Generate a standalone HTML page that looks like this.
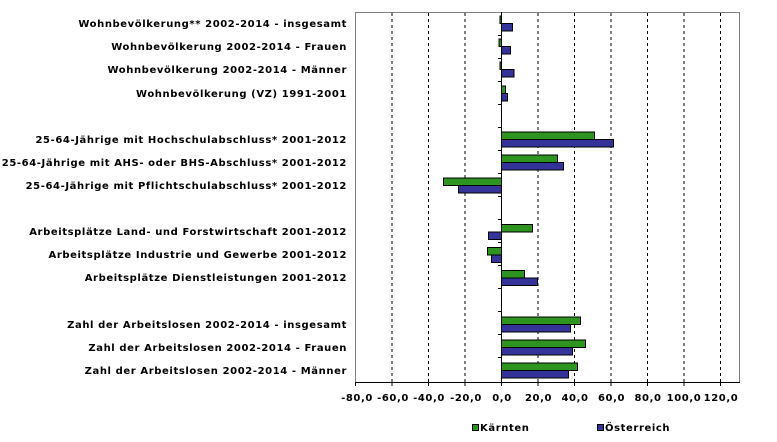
<!DOCTYPE html>
<html><head><meta charset="utf-8"><style>body{margin:0;background:#fff}svg{display:block}</style></head><body>
<svg width="777" height="442" xmlns="http://www.w3.org/2000/svg" font-family="DejaVu Sans, Verdana, sans-serif" font-weight="bold" font-size="10" letter-spacing="0.6">
<rect x="355.5" y="12.5" width="384" height="370" fill="none" stroke="#808080"/>
<g stroke="#000" stroke-dasharray="3,3">
<line x1="392" y1="13" x2="392" y2="382"/><line x1="428.5" y1="13" x2="428.5" y2="382"/><line x1="465" y1="13" x2="465" y2="382"/>
<line x1="538" y1="13" x2="538" y2="382"/><line x1="574.5" y1="13" x2="574.5" y2="382"/><line x1="611" y1="13" x2="611" y2="382"/>
<line x1="647.5" y1="13" x2="647.5" y2="382"/><line x1="684" y1="13" x2="684" y2="382"/><line x1="720.5" y1="13" x2="720.5" y2="382"/>
</g>
<g stroke="#000">
<rect x="500" y="16" width="1.5" height="7.5" fill="#2e9420"/><rect x="501.5" y="23.5" width="11" height="7.5" fill="#333399"/>
<rect x="499" y="39" width="2.5" height="7.5" fill="#2e9420"/><rect x="501.5" y="46.5" width="9" height="7.5" fill="#333399"/>
<rect x="500" y="62" width="1.5" height="7.5" fill="#2e9420"/><rect x="501.5" y="69.5" width="12.5" height="7.5" fill="#333399"/>
<rect x="501.5" y="86" width="4" height="7.5" fill="#2e9420"/><rect x="501.5" y="93.5" width="6" height="7.5" fill="#333399"/>
<rect x="501.5" y="132" width="93" height="7.5" fill="#2e9420"/><rect x="501.5" y="139.5" width="112" height="7.5" fill="#333399"/>
<rect x="501.5" y="155" width="56" height="7.5" fill="#2e9420"/><rect x="501.5" y="162.5" width="62" height="7.5" fill="#333399"/>
<rect x="443.5" y="178" width="58" height="7.5" fill="#2e9420"/><rect x="458.5" y="185.5" width="43" height="7.5" fill="#333399"/>
<rect x="501.5" y="224.5" width="31" height="7.5" fill="#2e9420"/><rect x="488.5" y="232" width="13" height="7.5" fill="#333399"/>
<rect x="487.5" y="247.5" width="14" height="7.5" fill="#2e9420"/><rect x="491.5" y="255" width="10" height="7.5" fill="#333399"/>
<rect x="501.5" y="270.5" width="23" height="7.5" fill="#2e9420"/><rect x="501.5" y="278" width="36" height="7.5" fill="#333399"/>
<rect x="501.5" y="317" width="79" height="7.5" fill="#2e9420"/><rect x="501.5" y="324.5" width="69" height="7.5" fill="#333399"/>
<rect x="501.5" y="340" width="84" height="7.5" fill="#2e9420"/><rect x="501.5" y="347.5" width="71" height="7.5" fill="#333399"/>
<rect x="501.5" y="363" width="76" height="7.5" fill="#2e9420"/><rect x="501.5" y="370.5" width="67" height="7.5" fill="#333399"/>
<line x1="501.5" y1="12" x2="501.5" y2="382"/>
<line x1="355" y1="382.5" x2="740" y2="382.5"/>
</g>
<g stroke="#000">
<path d="M498 35.5h4M498 58.5h4M498 81.5h4M498 104.5h4M498 127.5h4M498 150.5h4M498 173.5h4M498 196.5h4M498 219.5h4M498 242.5h4M498 265.5h4M498 288.5h4M498 311.5h4M498 334.5h4M498 357.5h4"/>
<path d="M355.5 382v4M392 382v4M428.5 382v4M465 382v4M501.5 382v4M538 382v4M574.5 382v4M611 382v4M647.5 382v4M684 382v4M720.5 382v4"/>
</g>
<g text-anchor="end">
<text x="347" y="27">Wohnbevölkerung** 2002-2014 - insgesamt</text>
<text x="347" y="50">Wohnbevölkerung 2002-2014 - Frauen</text>
<text x="347" y="73">Wohnbevölkerung 2002-2014 - Männer</text>
<text x="347" y="97">Wohnbevölkerung (VZ) 1991-2001</text>
<text x="347" y="143">25-64-Jährige mit Hochschulabschluss* 2001-2012</text>
<text x="347" y="166">25-64-Jährige mit AHS- oder BHS-Abschluss* 2001-2012</text>
<text x="347" y="189">25-64-Jährige mit Pflichtschulabschluss* 2001-2012</text>
<text x="347" y="235">Arbeitsplätze Land- und Forstwirtschaft 2001-2012</text>
<text x="347" y="258">Arbeitsplätze Industrie und Gewerbe 2001-2012</text>
<text x="347" y="281">Arbeitsplätze Dienstleistungen 2001-2012</text>
<text x="347" y="328">Zahl der Arbeitslosen 2002-2014 - insgesamt</text>
<text x="347" y="351">Zahl der Arbeitslosen 2002-2014 - Frauen</text>
<text x="347" y="374">Zahl der Arbeitslosen 2002-2014 - Männer</text>
</g>
<g text-anchor="middle">
<text x="357" y="401">-80,0</text><text x="393" y="401">-60,0</text><text x="429" y="401">-40,0</text><text x="466" y="401">-20,0</text>
<text x="502" y="401">0,0</text><text x="538.5" y="401">20,0</text><text x="575" y="401">40,0</text><text x="611.5" y="401">60,0</text>
<text x="648" y="401">80,0</text><text x="684" y="401">100,0</text><text x="721" y="401">120,0</text>
</g>
<rect x="472.5" y="424.5" width="6" height="6" fill="#2e9420" stroke="#000"/>
<text x="480" y="431">Kärnten</text>
<rect x="597.5" y="424.5" width="6" height="6" fill="#333399" stroke="#000"/>
<text x="605" y="431">Österreich</text>
</svg>
</body></html>
